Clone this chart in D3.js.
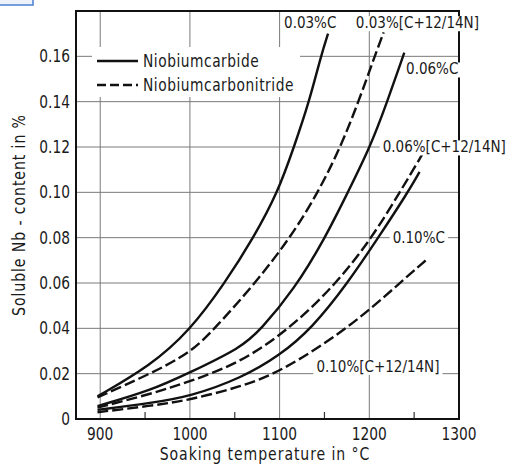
<!DOCTYPE html>
<html>
<head>
<meta charset="utf-8">
<script src="https://cdn.jsdelivr.net/npm/d3@7"></script>
<style>
  body { margin: 0; background: #fff; }
  text { font-family: 'DejaVu Sans', sans-serif; font-stretch: condensed; fill: #1a1a1a; }
</style>
</head>
<body>
<svg id="chart" width="511" height="465"></svg>
<script>
// tick values
var xTicks = [900, 1000, 1100, 1200, 1300]
var xMinorTicks = [950, 1050, 1150, 1250]
var yTicks = [0, 0.02, 0.04, 0.06, 0.08, 0.10, 0.12, 0.14, 0.16]
var yTickLabels = ['0', '0.02', '0.04', '0.06', '0.08', '0.10', '0.12', '0.14', '0.16']

// curves: [temperature degC, soluble Nb %]
var carbide003 = [[897, 0.010], [956, 0.0235], [1000, 0.039], [1039, 0.06], [1071, 0.08], [1098, 0.10], [1116, 0.12], [1133, 0.14], [1146, 0.16], [1154, 0.170]]
var carbonitride003 = [[897, 0.0095], [956, 0.020], [1000, 0.029], [1028, 0.04], [1073, 0.06], [1112, 0.08], [1143, 0.10], [1168, 0.12], [1188, 0.14], [1206, 0.16], [1216, 0.1706]]
var carbide006 = [[897, 0.0057], [956, 0.0125], [1000, 0.0205], [1057, 0.0315], [1078, 0.039], [1116, 0.057], [1151, 0.08], [1176, 0.10], [1201, 0.12], [1220, 0.14], [1239, 0.1616]]
var carbonitride006 = [[897, 0.005], [956, 0.011], [1000, 0.0165], [1057, 0.025], [1112, 0.04], [1164, 0.06], [1203, 0.08], [1234, 0.10], [1259, 0.1167]]
var carbide010 = [[897, 0.004], [956, 0.007], [1000, 0.0099], [1057, 0.018], [1100, 0.028], [1136, 0.04], [1176, 0.06], [1210, 0.08], [1243, 0.10], [1256, 0.109]]
var carbonitride010 = [[897, 0.003], [956, 0.0058], [1000, 0.0084], [1057, 0.0143], [1100, 0.0205], [1177, 0.04], [1234, 0.06], [1263, 0.070]]

var series = [
  { values: carbide003, dashed: false },
  { values: carbonitride003, dashed: true },
  { values: carbide006, dashed: false },
  { values: carbonitride006, dashed: true },
  { values: carbide010, dashed: false },
  { values: carbonitride010, dashed: true }
]

// curve labels, anchored at [temperature, value] of the text baseline start
var curveLabels = [
  { text: '0.03%C', t: 1105, v: 0.1724 },
  { text: '0.03%[C+12/14N]', t: 1185, v: 0.1724 },
  { text: '0.06%C', t: 1241, v: 0.152 },
  { text: '0.06%[C+12/14N]', t: 1215, v: 0.1176 },
  { text: '0.10%C', t: 1226, v: 0.0778 },
  { text: '0.10%[C+12/14N]', t: 1141, v: 0.0208 }
]

var legendItems = [
  { text: 'Niobiumcarbide', dashed: false },
  { text: 'Niobiumcarbonitride', dashed: true }
]

var svg = d3.select('#chart')

var x = d3.scaleLinear().domain([873, 1300]).range([76, 459])
var y = d3.scaleLinear().domain([0, 0.18]).range([419, 11])

// squeeze text horizontally, the original lettering is narrow and tall
function narrow(sel, k) {
  sel.each(function() {
    var w = this.getComputedTextLength()
    d3.select(this).attr('textLength', w * k).attr('lengthAdjust', 'spacingAndGlyphs')
  })
}

// small blue citation box cut off at the top left
svg.append('rect')
  .attr('x', -2).attr('y', -12).attr('width', 35).attr('height', 17)
  .attr('fill', '#eef3fb').attr('stroke', '#4a7fd0').attr('stroke-width', 1.5)

// grid
var grid = svg.append('g').attr('stroke', '#7a7a7a').attr('stroke-width', 1)
grid.selectAll('line.v')
  .data(xTicks.slice(0, -1))
  .enter().append('line')
  .attr('x1', function(d) { return x(d) })
  .attr('x2', function(d) { return x(d) })
  .attr('y1', y(0.18)).attr('y2', y(0))
grid.selectAll('line.h')
  .data(yTicks.slice(1))
  .enter().append('line')
  .attr('class', 'h')
  .attr('x1', x(873)).attr('x2', x(1300))
  .attr('y1', function(d) { return y(d) })
  .attr('y2', function(d) { return y(d) })

// minor ticks on the bottom axis, pointing inwards
svg.append('g').attr('stroke', '#333').attr('stroke-width', 1.2)
  .selectAll('line')
  .data(xMinorTicks)
  .enter().append('line')
  .attr('x1', function(d) { return x(d) })
  .attr('x2', function(d) { return x(d) })
  .attr('y1', y(0)).attr('y2', y(0) - 7)

// frame
svg.append('rect')
  .attr('x', x(873)).attr('y', y(0.18))
  .attr('width', x(1300) - x(873)).attr('height', y(0) - y(0.18))
  .attr('fill', 'none').attr('stroke', '#111').attr('stroke-width', 2)

// curves
var line = d3.line()
  .x(function(d) { return x(d[0]) })
  .y(function(d) { return y(d[1]) })
  .curve(d3.curveBasis)

svg.append('g')
  .selectAll('path')
  .data(series)
  .enter().append('path')
  .attr('d', function(d) { return line(d.values) })
  .attr('fill', 'none')
  .attr('stroke', '#111')
  .attr('stroke-width', 2.4)
  .attr('stroke-dasharray', function(d) { return d.dashed ? '11,4' : null })

// tick labels
svg.append('g')
  .selectAll('text')
  .data(xTicks)
  .enter().append('text')
  .attr('x', function(d) { return x(d) })
  .attr('y', 440)
  .attr('text-anchor', 'middle')
  .attr('font-size', 17)
  .text(function(d) { return d })
  .call(narrow, 0.9)

svg.append('g')
  .selectAll('text')
  .data(yTicks)
  .enter().append('text')
  .attr('x', 70)
  .attr('y', function(d) { return y(d) })
  .attr('dy', '0.36em')
  .attr('text-anchor', 'end')
  .attr('font-size', 17)
  .text(function(d, i) { return yTickLabels[i] })
  .call(narrow, 0.9)

// axis titles
svg.append('text')
  .attr('x', 265).attr('y', 460)
  .attr('text-anchor', 'middle')
  .attr('font-size', 17)
  .attr('letter-spacing', 1)
  .text('Soaking temperature in °C')
  .call(narrow, 0.92)

svg.append('text')
  .attr('transform', 'translate(25,215) rotate(-90)')
  .attr('text-anchor', 'middle')
  .attr('font-size', 17)
  .attr('letter-spacing', 1)
  .text('Soluble Nb - content in %')
  .call(narrow, 0.92)

// curve labels with white backing
var labels = svg.append('g')
  .selectAll('g')
  .data(curveLabels)
  .enter().append('g')

var labelText = labels.append('text')
  .attr('x', function(d) { return x(d.t) })
  .attr('y', function(d) { return y(d.v) })
  .attr('font-size', 15)
  .text(function(d) { return d.text })

labelText.each(function(d) {
  var b = this.getBBox()
  d3.select(this.parentNode).insert('rect', 'text')
    .attr('x', b.x - 3).attr('y', b.y + 2)
    .attr('width', b.width + 6).attr('height', b.height - 3)
    .attr('fill', '#fff')
})

// legend
svg.append('rect')
  .attr('x', 92).attr('y', 47).attr('width', 208).attr('height', 50)
  .attr('fill', '#fff')

var legend = svg.append('g')
  .selectAll('g')
  .data(legendItems)
  .enter().append('g')
  .attr('transform', function(d, i) { return 'translate(97,' + (61 + i * 24) + ')' })

legend.append('line')
  .attr('x1', 0).attr('x2', 41)
  .attr('stroke', '#111').attr('stroke-width', 2.4)
  .attr('stroke-dasharray', function(d) { return d.dashed ? '9,4' : null })

legend.append('text')
  .attr('x', 46)
  .attr('dy', '0.36em')
  .attr('font-size', 17)
  .attr('letter-spacing', 0.6)
  .text(function(d) { return d.text })
  .call(narrow, 0.9)
</script>
</body>
</html>
